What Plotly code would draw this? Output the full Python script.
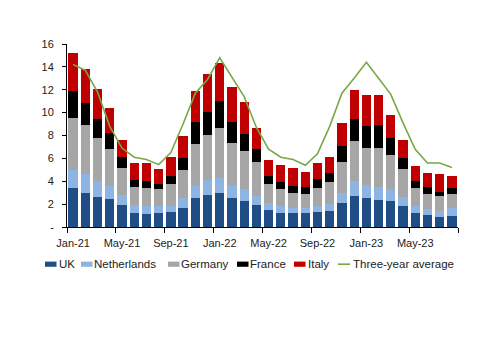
import plotly.graph_objects as go

months = ["Jan-21","Feb-21","Mar-21","Apr-21","May-21","Jun-21","Jul-21","Aug-21","Sep-21","Oct-21","Nov-21","Dec-21",
          "Jan-22","Feb-22","Mar-22","Apr-22","May-22","Jun-22","Jul-22","Aug-22","Sep-22","Oct-22","Nov-22","Dec-22",
          "Jan-23","Feb-23","Mar-23","Apr-23","May-23","Jun-23","Jul-23","Aug-23"]

uk = [3.4,3.0,2.6,2.45,1.9,1.2,1.15,1.2,1.3,1.7,2.5,2.8,
      3.0,2.5,2.3,1.9,1.5,1.25,1.2,1.2,1.3,1.4,2.1,2.75,
      2.55,2.4,2.3,1.8,1.25,1.05,0.9,1.0]
netherlands = [1.6,1.6,1.4,1.15,0.9,0.7,0.65,0.6,0.5,0.8,1.1,1.3,
               1.3,1.2,1.0,0.8,0.6,0.55,0.5,0.5,0.5,0.65,0.9,1.25,
               1.1,1.1,1.0,0.8,0.55,0.55,0.5,0.65]
germany = [4.55,4.35,3.75,3.25,2.35,1.6,1.6,1.5,2.0,2.45,3.65,3.95,
           4.35,3.65,3.35,2.95,1.7,1.5,1.3,1.2,1.6,1.85,2.65,3.55,
           3.3,3.45,3.0,2.45,1.6,1.3,1.3,1.25]
france = [2.3,1.9,1.7,1.4,1.0,0.6,0.6,0.5,0.7,1.1,1.9,2.0,
          2.35,1.8,1.5,1.2,0.7,0.6,0.6,0.6,0.8,0.8,1.4,1.9,
          1.9,1.95,1.45,1.0,0.6,0.6,0.4,0.5]
italy = [3.35,3.0,2.65,2.15,1.5,1.5,1.6,1.3,1.6,1.9,2.75,3.35,
         3.35,3.05,2.75,1.8,1.4,1.55,1.55,1.3,1.4,1.45,2.0,2.55,
         2.65,2.65,2.05,1.6,1.3,1.25,1.5,1.1]
three_year_avg = [14.2,13.7,11.8,8.8,6.9,6.1,5.9,5.45,6.5,9.0,11.7,12.9,
                  14.8,13.1,11.4,8.7,6.8,6.1,5.9,5.4,6.4,8.8,11.7,13.0,
                  14.4,13.0,11.6,9.1,6.8,5.6,5.6,5.2]

y_tickvals = [0, 2, 4, 6, 8, 10, 12, 14, 16]
y_ticktext = ["-", "2", "4", "6", "8", "10", "12", "14", "16"]

W, H = 500, 353
ML, MR, MT, MB = 67, 42, 44, 125.5
PW, PH = W - ML - MR, H - MT - MB

def px_x(p):
    return (p - ML) / PW

def px_y(p):
    return (H - MB - p) / PH

x = list(range(len(months)))
font = dict(family="Liberation Sans, Arial, sans-serif", size=11, color="#222222")
lfont = dict(family="Liberation Sans, Arial, sans-serif", size=11.5, color="#222222")

fig = go.Figure()
series = [("UK", uk, "#1F4E86"), ("Netherlands", netherlands, "#8DB4E2"),
          ("Germany", germany, "#A6A6A6"), ("France", france, "#000000"),
          ("Italy", italy, "#C00000")]
for name, vals, col in series:
    fig.add_trace(go.Bar(x=x, y=vals, name=name, marker=dict(color=col, line=dict(width=0)),
                         width=0.76))
line_col = "#77A845"
fig.add_trace(go.Scatter(x=x, y=three_year_avg, name="Three-year average", mode="lines",
                         line=dict(color=line_col, width=1.6)))

# legend drawn as a single row, like the reference
legend_items = [("UK", "#1F4E86", "box", 45, 58),
                ("Netherlands", "#8DB4E2", "box", 81, 93),
                ("Germany", "#A6A6A6", "box", 168, 180),
                ("France", "#000000", "box", 237, 249),
                ("Italy", "#C00000", "box", 294, 307),
                ("Three-year average", line_col, "line", 338, 352)]
ly = 264.8
for name, col, kind, sx, tx in legend_items:
    if kind == "box":
        fig.add_shape(type="rect", xref="paper", yref="paper",
                      x0=px_x(sx), x1=px_x(sx + 11.5), y0=px_y(ly - 2.6), y1=px_y(ly + 2.6),
                      fillcolor=col, line=dict(width=0))
    else:
        fig.add_shape(type="line", xref="paper", yref="paper",
                      x0=px_x(sx), x1=px_x(sx + 12), y0=px_y(ly), y1=px_y(ly),
                      line=dict(color=col, width=1.6))
    fig.add_annotation(text=name, xref="paper", yref="paper", x=px_x(tx), y=px_y(ly),
                       xanchor="left", yanchor="middle", showarrow=False, font=lfont,
                       xshift=0, yshift=0, borderpad=0)

label_idx = list(range(0, len(months), 4))
fig.update_layout(
    barmode="stack",
    width=W, height=H,
    margin=dict(l=ML, r=MR, t=MT, b=MB),
    paper_bgcolor="white", plot_bgcolor="white",
    font=font,
    showlegend=False,
    xaxis=dict(range=[-0.5, len(months) - 0.5], tickmode="array",
               tickvals=label_idx, ticktext=[months[i] for i in label_idx],
               ticks="", showline=True, linecolor="#000000", linewidth=1,
               showgrid=False, zeroline=False, tickfont=font, ticklabelstandoff=6,
               minor=dict(tickmode="array", tickvals=[i - 0.5 for i in label_idx] + [len(months) - 0.5],
                          ticks="outside", ticklen=5, tickcolor="#000000", tickwidth=1, showgrid=False)),
    yaxis=dict(range=[0, 16], tickmode="array", tickvals=y_tickvals, ticktext=y_ticktext,
               ticks="outside", ticklen=4, tickcolor="#000000", showline=True,
               linecolor="#000000", linewidth=1, showgrid=False, zeroline=False, tickfont=font,
               ticklabelstandoff=6),
)

fig.write_html("out.html")
